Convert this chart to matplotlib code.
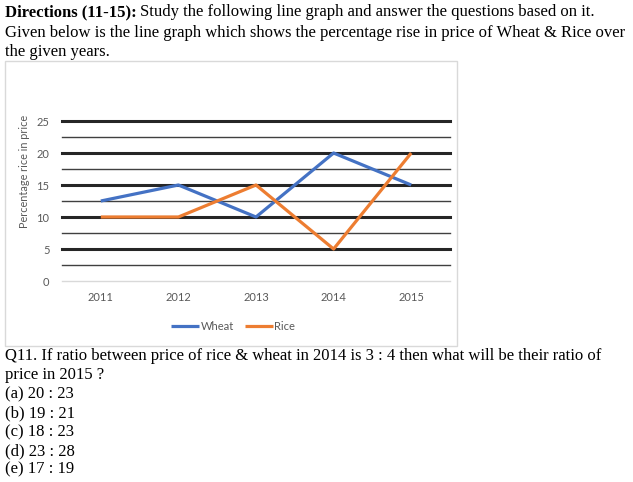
import matplotlib
matplotlib.use("Agg")
import matplotlib.pyplot as plt
from matplotlib.patches import Rectangle

years = ["2011", "2012", "2013", "2014", "2015"]
wheat = [12.5, 15, 10, 20, 15]
rice = [10, 10, 15, 5, 20]
yticks = [0, 5, 10, 15, 20, 25]

W, H = 633, 482
fig = plt.figure(figsize=(W / 100, H / 100), dpi=100)
fig.patch.set_facecolor("white")

def fx(px):
    return px / W

def fy(py):
    return 1 - py / H

SERIF = "Liberation Serif"
CHART_FONT = "Lato"
GRAY = "#595959"
CFS = 8

# Chart frame
fig.patches.append(Rectangle((fx(5), fy(346)), fx(457) - fx(5), fy(61) - fy(346),
                             transform=fig.transFigure, fill=False, edgecolor="#d9d9d9", lw=1))

ax = fig.add_axes([fx(62), fy(281), fx(450) - fx(62), fy(121) - fy(281)])
x = list(range(len(years)))
for s in ax.spines.values():
    s.set_visible(False)
ax.set_xlim(-0.5, 4.5)
ax.set_ylim(0, 25)
for v in [5, 10, 15, 20, 25]:
    ax.axhline(v, color="#262626", lw=2.2, zorder=1, clip_on=False)
for v in [2.5, 7.5, 12.5, 17.5, 22.5]:
    ax.axhline(v, color="#404040", lw=1.0, zorder=1, clip_on=False)
ax.axhline(0, color="#d9d9d9", lw=1.0, zorder=1, clip_on=False)

lw_w, = ax.plot(x, wheat, color="#4472c4", lw=2.3, zorder=3, solid_capstyle="butt", clip_on=False)
lw_r, = ax.plot(x, rice, color="#ed7d31", lw=2.3, zorder=3, solid_capstyle="butt", clip_on=False)

ax.set_yticks(yticks)
ax.set_yticklabels([str(t) for t in yticks], fontsize=CFS, color=GRAY, family=CHART_FONT)
ax.set_xticks(x)
ax.set_xticklabels(years, fontsize=CFS, color=GRAY, family=CHART_FONT)
ax.tick_params(axis="both", length=0)
ax.tick_params(axis="y", pad=9)
ax.tick_params(axis="x", pad=8)

fig.text(fx(25), fy(171), "Percentage rice in price", rotation=90, ha="center", va="center",
         fontsize=7.8, color=GRAY, family=CHART_FONT)

legend = ax.legend([lw_w, lw_r], ["Wheat", "Rice"], loc="center", bbox_to_anchor=(fx(233), fy(326)),
                   bbox_transform=fig.transFigure, ncol=2, frameon=False,
                   handlelength=2.5, handletextpad=0.1, columnspacing=1.0,
                   prop={"family": CHART_FONT, "size": CFS})
for t in legend.get_texts():
    t.set_color(GRAY)

# Fit serif text size to reference line width
fig.canvas.draw()
r = fig.canvas.get_renderer()
line2 = "Given below is the line graph which shows the percentage rise in price of Wheat & Rice over"
probe = fig.text(0, 0, line2, fontsize=10, family=SERIF)
wpx = probe.get_window_extent(renderer=r).width
probe.remove()
TS = 10 * 622 / wpx

t1 = fig.text(fx(5), fy(12), "Directions (11-15):", fontsize=TS, fontweight="bold", family=SERIF,
              va="center", ha="left", color="black")
bb = t1.get_window_extent(renderer=r)
fig.text(bb.x1 / W + fx(3), fy(12), "Study the following line graph and answer the questions based on it.",
         fontsize=TS, family=SERIF, va="center", ha="left", color="black")
fig.text(fx(5), fy(33), line2, fontsize=TS, family=SERIF, va="center", ha="left", color="black")
fig.text(fx(5), fy(52), "the given years.", fontsize=TS, family=SERIF, va="center", ha="left", color="black")

lines = [
    (356, "Q11. If ratio between price of rice & wheat in 2014 is 3 : 4 then what will be their ratio of"),
    (375, "price in 2015 ?"),
    (394, "(a) 20 : 23"),
    (413, "(b) 19 : 21"),
    (432, "(c) 18 : 23"),
    (451, "(d) 23 : 28"),
    (469, "(e) 17 : 19"),
]
for py, s in lines:
    fig.text(fx(5), fy(py), s, fontsize=TS, family=SERIF, va="center", ha="left", color="black")

fig.savefig("out.png", dpi=100, facecolor="white")
